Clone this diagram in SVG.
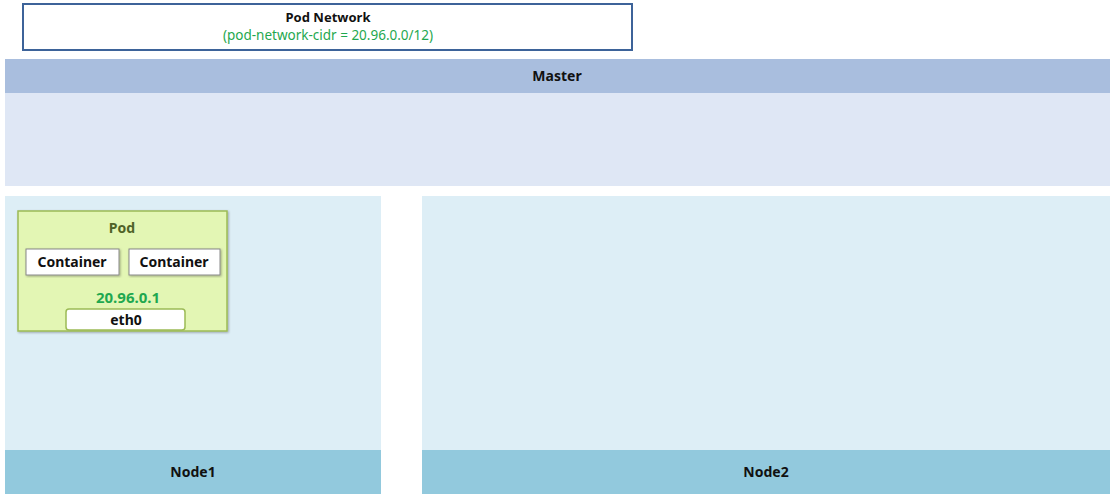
<svg xmlns="http://www.w3.org/2000/svg" width="1115" height="499" viewBox="0 0 1115 499">
<style>
text{font-family:"Noto Sans","Liberation Sans",sans-serif;text-anchor:middle}
.b{font-weight:bold;font-size:14px;fill:#111}
.g{fill:#1fa84f}
.box{fill:#fff;stroke:#888;stroke-width:1}
</style>
<defs><filter id="sh"><feDropShadow dx="1" dy="1" stdDeviation="1" flood-opacity="0.3"/></filter></defs>
<rect width="1115" height="499" fill="#fff"/>
<g id="podnetwork">
<rect x="23" y="4" width="609" height="46" fill="#fff" stroke="#3d6399" stroke-width="2"/>
<text x="328" y="22" class="b" style="font-size:13px">Pod Network</text>
<text x="328" y="40" class="g" style="font-size:13.5px">(pod-network-cidr = 20.96.0.0/12)</text>
</g>
<g id="master">
<rect x="5" y="59" width="1105" height="127" fill="#dfe7f5"/>
<rect x="5" y="59" width="1105" height="34" fill="#a9bede"/>
<text x="557" y="81" class="b">Master</text>
</g>
<g id="node1">
<rect x="5" y="196" width="376" height="298" fill="#ddeef6"/>
<rect x="5" y="450" width="376" height="44" fill="#92c9dd"/>
<text x="193" y="477" class="b">Node1</text>
</g>
<g id="node2">
<rect x="422" y="196" width="688" height="298" fill="#ddeef6"/>
<rect x="422" y="450" width="688" height="44" fill="#92c9dd"/>
<text x="766" y="477" class="b">Node2</text>
</g>
<g id="pod">
<rect x="18" y="211" width="209" height="120" fill="#e3f6b4" stroke="#9cbb55" stroke-width="1.5" filter="url(#sh)"/>
<text x="122" y="233" class="b" style="fill:#4f6228">Pod</text>
<rect x="26" y="249" width="93" height="26" class="box" filter="url(#sh)"/>
<text x="72" y="267" class="b" style="font-size:14px">Container</text>
<rect x="129" y="249" width="91" height="26" class="box" filter="url(#sh)"/>
<text x="174" y="267" class="b" style="font-size:14px">Container</text>
<text x="128" y="303" class="b g" style="font-size:15px">20.96.0.1</text>
<rect x="66" y="309" width="119" height="21" rx="3" fill="#fff" stroke="#9cbb55" stroke-width="1.5"/>
<text x="126" y="325" class="b" style="font-size:14px">eth0</text>
</g>
<g id="connectors"/>
</svg>
